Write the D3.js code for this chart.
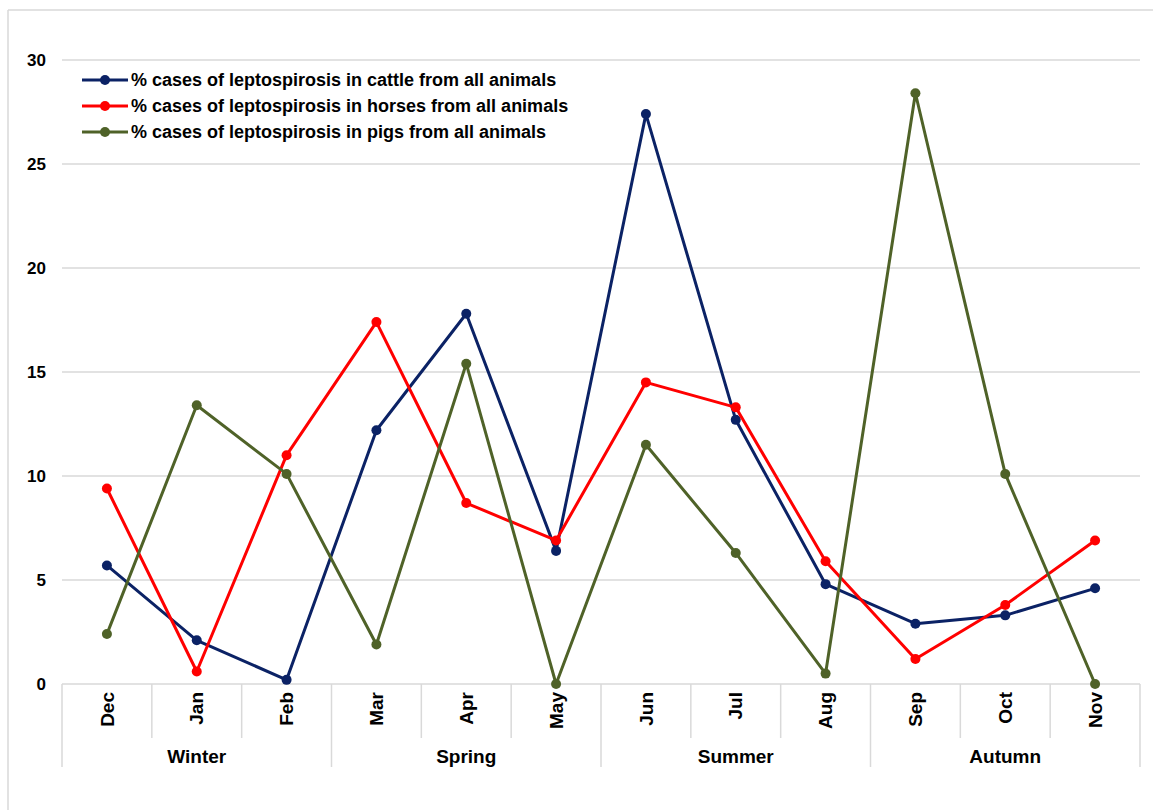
<!DOCTYPE html>
<html>
<head>
<meta charset="utf-8">
<script src="https://cdn.jsdelivr.net/npm/d3@7"></script>
<style>
  body { margin: 0; background: #fff; }
  svg { font-family: "Liberation Sans", Arial, sans-serif; font-weight: bold; }
</style>
</head>
<body>
<div id="chart"></div>
<script>
// data
var months = ["Dec", "Jan", "Feb", "Mar", "Apr", "May", "Jun", "Jul", "Aug", "Sep", "Oct", "Nov"]
var seasons = ["Winter", "Spring", "Summer", "Autumn"]
var cattle = [5.7, 2.1, 0.2, 12.2, 17.8, 6.4, 27.4, 12.7, 4.8, 2.9, 3.3, 4.6]
var horses = [9.4, 0.6, 11.0, 17.4, 8.7, 6.9, 14.5, 13.3, 5.9, 1.2, 3.8, 6.9]
var pigs = [2.4, 13.4, 10.1, 1.9, 15.4, 0.0, 11.5, 6.3, 0.5, 28.4, 10.1, 0.0]
var seriesNames = [
  "% cases of leptospirosis in cattle from all animals",
  "% cases of leptospirosis in horses from all animals",
  "% cases of leptospirosis in pigs from all animals"
]
var colors = ["#0b2265", "#ff0000", "#4f6228"]
var yTicks = [0, 5, 10, 15, 20, 25, 30]

const W = 1153, H = 810
const margin = { top: 60, right: 13, bottom: 126, left: 62 },
    width = W - margin.left - margin.right,
    height = H - margin.top - margin.bottom;

const root = d3.select("#chart").append("svg")
    .attr("width", W)
    .attr("height", H)

// outer frame (top and left only visible)
root.append("line").attr("x1", 8).attr("x2", W).attr("y1", 10).attr("y2", 10)
    .attr("stroke", "#d9d9d9").attr("stroke-width", 1.5)
root.append("line").attr("x1", 8).attr("x2", 8).attr("y1", 10).attr("y2", H)
    .attr("stroke", "#d9d9d9").attr("stroke-width", 1.5)

const svg = root.append("g")
    .attr("transform", `translate(${margin.left},${margin.top})`);

const x = d3.scaleBand()
    .domain(months)
    .range([0, width])

const y = d3.scaleLinear()
    .domain([0, 30])
    .range([height, 0])

// gridlines
svg.append("g")
    .selectAll("line")
    .data(yTicks)
    .enter()
    .append("line")
    .attr("x1", 0)
    .attr("x2", width)
    .attr("y1", d => y(d))
    .attr("y2", d => y(d))
    .attr("stroke", "#d9d9d9")
    .attr("stroke-width", 1.5)

// y labels
svg.append("g")
    .selectAll("text")
    .data(yTicks)
    .enter()
    .append("text")
    .attr("x", -16)
    .attr("y", d => y(d))
    .attr("dy", "0.35em")
    .attr("text-anchor", "end")
    .style("font-size", "17px")
    .attr("fill", "#000")
    .text(d => d)

// category axis: month separators and labels
const sepColor = "#d9d9d9"
svg.append("g")
    .selectAll("line")
    .data(d3.range(months.length + 1))
    .enter()
    .append("line")
    .attr("x1", i => i * x.bandwidth())
    .attr("x2", i => i * x.bandwidth())
    .attr("y1", height)
    .attr("y2", i => (i % 3 == 0) ? height + 83 : height + 54)
    .attr("stroke", sepColor)
    .attr("stroke-width", 1.5)

svg.append("g")
    .selectAll("text")
    .data(months)
    .enter()
    .append("text")
    .attr("transform", d => `translate(${x(d) + x.bandwidth() / 2},${height + 8}) rotate(-90)`)
    .attr("text-anchor", "end")
    .attr("dy", "0.35em")
    .style("font-size", "19px")
    .text(d => d)

svg.append("g")
    .selectAll("text")
    .data(seasons)
    .enter()
    .append("text")
    .attr("x", (d, i) => x(months[i * 3]) + x.bandwidth() * 1.5)
    .attr("y", height + 79)
    .attr("text-anchor", "middle")
    .style("font-size", "19px")
    .text(d => d)

// lines and markers
const line = d3.line()
    .x((d, i) => x(months[i]) + x.bandwidth() / 2)
    .y(d => y(d))

var allSeries = [cattle, horses, pigs]
allSeries.forEach(function (vals, s) {
    svg.append("path")
        .datum(vals)
        .attr("d", line)
        .attr("fill", "none")
        .attr("stroke", colors[s])
        .attr("stroke-width", 3)
        .attr("stroke-linejoin", "round")
    svg.append("g")
        .selectAll("circle")
        .data(vals)
        .enter()
        .append("circle")
        .attr("cx", (d, i) => x(months[i]) + x.bandwidth() / 2)
        .attr("cy", d => y(d))
        .attr("r", 5)
        .attr("fill", colors[s])
})

// legend
const legend = root.append("g").attr("transform", "translate(82,80)")
seriesNames.forEach(function (name, i) {
    const g = legend.append("g").attr("transform", `translate(0,${i * 26})`)
    g.append("line").attr("x1", 0).attr("x2", 46).attr("y1", 0).attr("y2", 0)
        .attr("stroke", colors[i]).attr("stroke-width", 3)
    g.append("circle").attr("cx", 23).attr("cy", 0).attr("r", 5).attr("fill", colors[i])
    g.append("text").attr("x", 49).attr("y", 0).attr("dy", "0.35em")
        .style("font-size", "18px")
        .text(name)
})
</script>
</body>
</html>
